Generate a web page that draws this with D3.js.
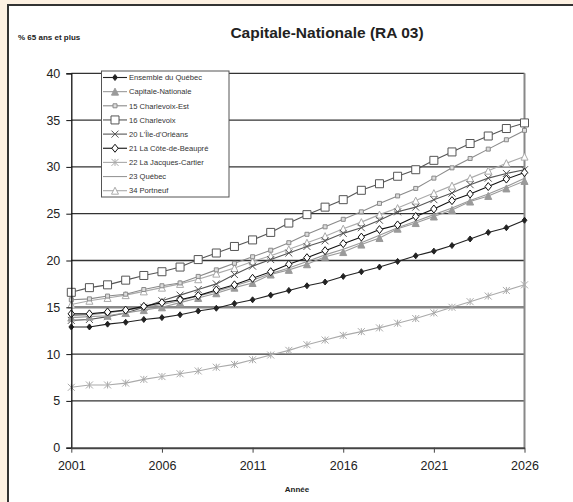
<!DOCTYPE html>
<html>
<head>
<meta charset="utf-8">
<script src="https://cdn.jsdelivr.net/npm/d3@7"></script>
<style>
  body { margin: 0; background: #fdf1e2; }
  text { font-family: "Liberation Sans", Arial, sans-serif; }
</style>
</head>
<body>
<div id="chart"></div>
<script>
const years = d3.range(2001, 2027);
const yTicks = [0, 5, 10, 15, 20, 25, 30, 35, 40];
const xTicks = [2001, 2006, 2011, 2016, 2021, 2026];

const seriesNames = [
    "Ensemble du Québec", "Capitale-Nationale", "15 Charlevoix-Est", "16 Charlevoix",
    "20 L'Île-d'Orléans", "21 La Côte-de-Beaupré", "22 La Jacques-Cartier", "23 Québec", "34 Portneuf"
];

const ensemble = [12.9, 12.9, 13.2, 13.4, 13.7, 13.9, 14.2, 14.6, 14.9, 15.4, 15.8, 16.3, 16.8, 17.3, 17.7, 18.3, 18.8, 19.3, 19.9, 20.5, 21.0, 21.6, 22.3, 23.0, 23.5, 24.3];
const capitale = [13.9, 14.0, 14.1, 14.4, 14.7, 15.0, 15.5, 16.0, 16.5, 17.1, 17.6, 18.5, 19.0, 19.6, 20.4, 20.9, 21.7, 22.4, 23.4, 24.0, 24.7, 25.4, 26.3, 26.9, 27.7, 28.5];
const charlevoixEst = [15.8, 15.9, 16.2, 16.4, 16.9, 17.3, 17.6, 18.3, 19.0, 19.7, 20.4, 21.1, 21.9, 22.8, 23.6, 24.4, 25.2, 26.1, 26.9, 27.7, 28.8, 29.9, 30.9, 31.9, 32.9, 33.9];
const charlevoix = [16.6, 17.1, 17.4, 17.9, 18.4, 18.8, 19.3, 20.1, 20.8, 21.5, 22.2, 23.0, 24.0, 24.9, 25.7, 26.5, 27.5, 28.2, 29.0, 29.7, 30.7, 31.6, 32.5, 33.3, 34.1, 34.7];
const ileOrleans = [13.6, 13.7, 14.0, 14.4, 15.0, 15.7, 16.3, 16.9, 17.5, 18.5, 19.4, 20.1, 20.8, 21.5, 22.1, 22.9, 23.5, 24.3, 25.2, 25.7, 26.5, 27.2, 28.1, 28.8, 29.3, 29.7];
const coteBeaupre = [14.3, 14.3, 14.5, 14.7, 15.1, 15.5, 15.8, 16.25, 16.85, 17.4, 18.1, 18.8, 19.6, 20.3, 21.05, 21.8, 22.5, 23.3, 23.8, 24.7, 25.5, 26.4, 27.1, 27.9, 28.7, 29.4];
const jacquesCartier = [6.45, 6.7, 6.7, 6.9, 7.3, 7.6, 7.9, 8.2, 8.6, 8.9, 9.4, 9.9, 10.4, 11.0, 11.5, 12.0, 12.4, 12.8, 13.3, 13.8, 14.4, 15.0, 15.6, 16.2, 16.8, 17.4];
const quebec = [14.1, 14.2, 14.4, 14.7, 15.0, 15.3, 15.7, 16.2, 16.7, 17.3, 17.9, 18.6, 19.2, 19.9, 20.6, 21.2, 21.9, 22.7, 23.5, 24.2, 24.9, 25.6, 26.4, 27.1, 27.9, 28.8];
const portneuf = [15.3, 15.7, 16.0, 16.3, 16.7, 17.1, 17.5, 18.0, 18.6, 19.2, 19.9, 20.5, 21.2, 21.9, 22.6, 23.4, 24.1, 24.9, 25.6, 26.4, 27.2, 28.0, 28.8, 29.6, 30.4, 31.1];

const seriesValues = [ensemble, capitale, charlevoixEst, charlevoix, ileOrleans, coteBeaupre, jacquesCartier, quebec, portneuf];

// style of each series: line colour, marker, marker fill
const styles = [
    { stroke: "#222", marker: "diamond", size: 6, fill: "#222" },
    { stroke: "#9a9a9a", marker: "triangle", size: 7, fill: "#9a9a9a" },
    { stroke: "#8a8a8a", marker: "square", size: 4, fill: "#ddd" },
    { stroke: "#555", marker: "square", size: 8, fill: "#fff" },
    { stroke: "#555", marker: "x", size: 7, fill: "none" },
    { stroke: "#111", marker: "diamond", size: 8, fill: "#fff" },
    { stroke: "#aaa", marker: "asterisk", size: 7, fill: "none" },
    { stroke: "#999", marker: "none", size: 0, fill: "none" },
    { stroke: "#aaa", marker: "triangle", size: 7, fill: "#fff" }
];

const width = 573, height = 502;
const margin = { top: 73.3, right: 48.5, bottom: 54.3, left: 71.3 };

const svg = d3.select("#chart")
    .append("svg")
    .attr("width", width)
    .attr("height", height);

// white panel with border
svg.append("rect")
    .attr("x", 8).attr("y", 5)
    .attr("width", 700).attr("height", 700)
    .attr("fill", "#fff")
    .attr("stroke", "#333")
    .attr("stroke-width", 2);

const xScale = d3.scaleLinear()
    .domain([2001, 2026])
    .range([margin.left, width - margin.right]);

const yScale = d3.scaleLinear()
    .domain([0, 40])
    .range([height - margin.bottom, margin.top]);

// gridlines
svg.append("g")
    .selectAll("line")
    .data(yTicks.filter(d => d > 0))
    .enter()
    .append("line")
    .attr("x1", margin.left)
    .attr("x2", width - margin.right)
    .attr("y1", d => yScale(d))
    .attr("y2", d => yScale(d))
    .attr("stroke", d => d === 15 ? "#888" : "#333")
    .attr("stroke-width", d => d === 15 ? 2.5 : 1.3);

// right border of plot
svg.append("line")
    .attr("x1", width - margin.right).attr("x2", width - margin.right)
    .attr("y1", yScale(40)).attr("y2", yScale(0))
    .attr("stroke", "#888")
    .attr("stroke-width", 2);

function markerPath(type, s) {
    const h = s / 2;
    switch (type) {
        case "diamond": return `M0,${-h}L${h * 0.8},0L0,${h}L${-h * 0.8},0Z`;
        case "triangle": return `M0,${-h}L${h},${h}L${-h},${h}Z`;
        case "square": return `M${-h},${-h}H${h}V${h}H${-h}Z`;
        case "x": return `M${-h},${-h}L${h},${h}M${-h},${h}L${h},${-h}`;
        case "asterisk": return `M${-h},${-h}L${h},${h}M${-h},${h}L${h},${-h}M0,${-h}V${h}`;
        default: return "";
    }
}

const line = d3.line()
    .x((d, i) => xScale(years[i]))
    .y(d => yScale(d));

// draw in reverse so Ensemble sits on top
const order = [8, 7, 6, 4, 2, 3, 1, 5, 0];
order.forEach(k => {
    const st = styles[k];
    const g = svg.append("g");
    g.append("path")
        .datum(seriesValues[k])
        .attr("d", line)
        .attr("fill", "none")
        .attr("stroke", st.stroke)
        .attr("stroke-width", 1.1);
    if (st.marker !== "none") {
        g.selectAll("path.m")
            .data(seriesValues[k])
            .enter()
            .append("path")
            .attr("class", "m")
            .attr("transform", (d, i) => `translate(${xScale(years[i])},${yScale(d)})`)
            .attr("d", markerPath(st.marker, st.size))
            .attr("fill", st.fill)
            .attr("stroke", st.stroke)
            .attr("stroke-width", 1);
    }
});

// y axis
svg.append("g")
    .attr("transform", `translate(${margin.left},0)`)
    .call(d3.axisLeft(yScale).tickValues(yTicks).tickSize(5).tickPadding(6))
    .call(g => g.select(".domain").attr("stroke", "#111").attr("stroke-width", 1.3))
    .call(g => g.selectAll(".tick line").attr("stroke", "#111"))
    .call(g => g.selectAll("text").attr("font-size", 12.5).attr("fill", "#222")
        .attr("font-family", "Liberation Sans, Arial, sans-serif"));

// x axis
svg.append("g")
    .attr("transform", `translate(0,${height - margin.bottom})`)
    .call(d3.axisBottom(xScale).tickValues(xTicks).tickFormat(d3.format("d")).tickSize(5).tickPadding(8).tickSizeOuter(0))
    .call(g => g.select(".domain").attr("stroke", "#444").attr("stroke-width", 2))
    .call(g => g.selectAll(".tick line").attr("stroke", "#444"))
    .call(g => g.selectAll("text").attr("font-size", 12.5).attr("fill", "#222")
        .attr("font-family", "Liberation Sans, Arial, sans-serif"));

// legend
const lg = svg.append("g");
lg.append("rect")
    .attr("x", 101.5).attr("y", 71)
    .attr("width", 127.5).attr("height", 126)
    .attr("fill", "#fff")
    .attr("stroke", "#555")
    .attr("stroke-width", 1);

seriesNames.forEach((name, k) => {
    const st = styles[k];
    const y = 77.5 + k * 14.15;
    lg.append("line")
        .attr("x1", 103).attr("x2", 127)
        .attr("y1", y).attr("y2", y)
        .attr("stroke", st.stroke)
        .attr("stroke-width", 1.1);
    if (st.marker !== "none") {
        lg.append("path")
            .attr("transform", `translate(115,${y})`)
            .attr("d", markerPath(st.marker, st.size))
            .attr("fill", st.fill)
            .attr("stroke", st.stroke);
    }
    lg.append("text")
        .attr("x", 129)
        .attr("y", y + 2.7)
        .style("font-size", "7.6px")
        .attr("fill", "#333")
        .text(name);
});

// Y-axis label
svg.append("text")
    .attr("x", 18)
    .attr("y", 40)
    .style("font-size", "8px")
    .style("font-weight", "bold")
    .attr("fill", "#222")
    .text("% 65 ans et plus");

// X-axis label
svg.append("text")
    .attr("x", 297)
    .attr("y", 492)
    .attr("text-anchor", "middle")
    .style("font-size", "8px")
    .style("font-weight", "bold")
    .attr("fill", "#222")
    .text("Année");

// Plot title
svg.append("text")
    .attr("x", 327)
    .attr("y", 38)
    .attr("text-anchor", "middle")
    .style("font-size", "15.5px")
    .style("font-weight", "bold")
    .attr("fill", "#222")
    .text("Capitale-Nationale (RA 03)");
</script>
</body>
</html>
